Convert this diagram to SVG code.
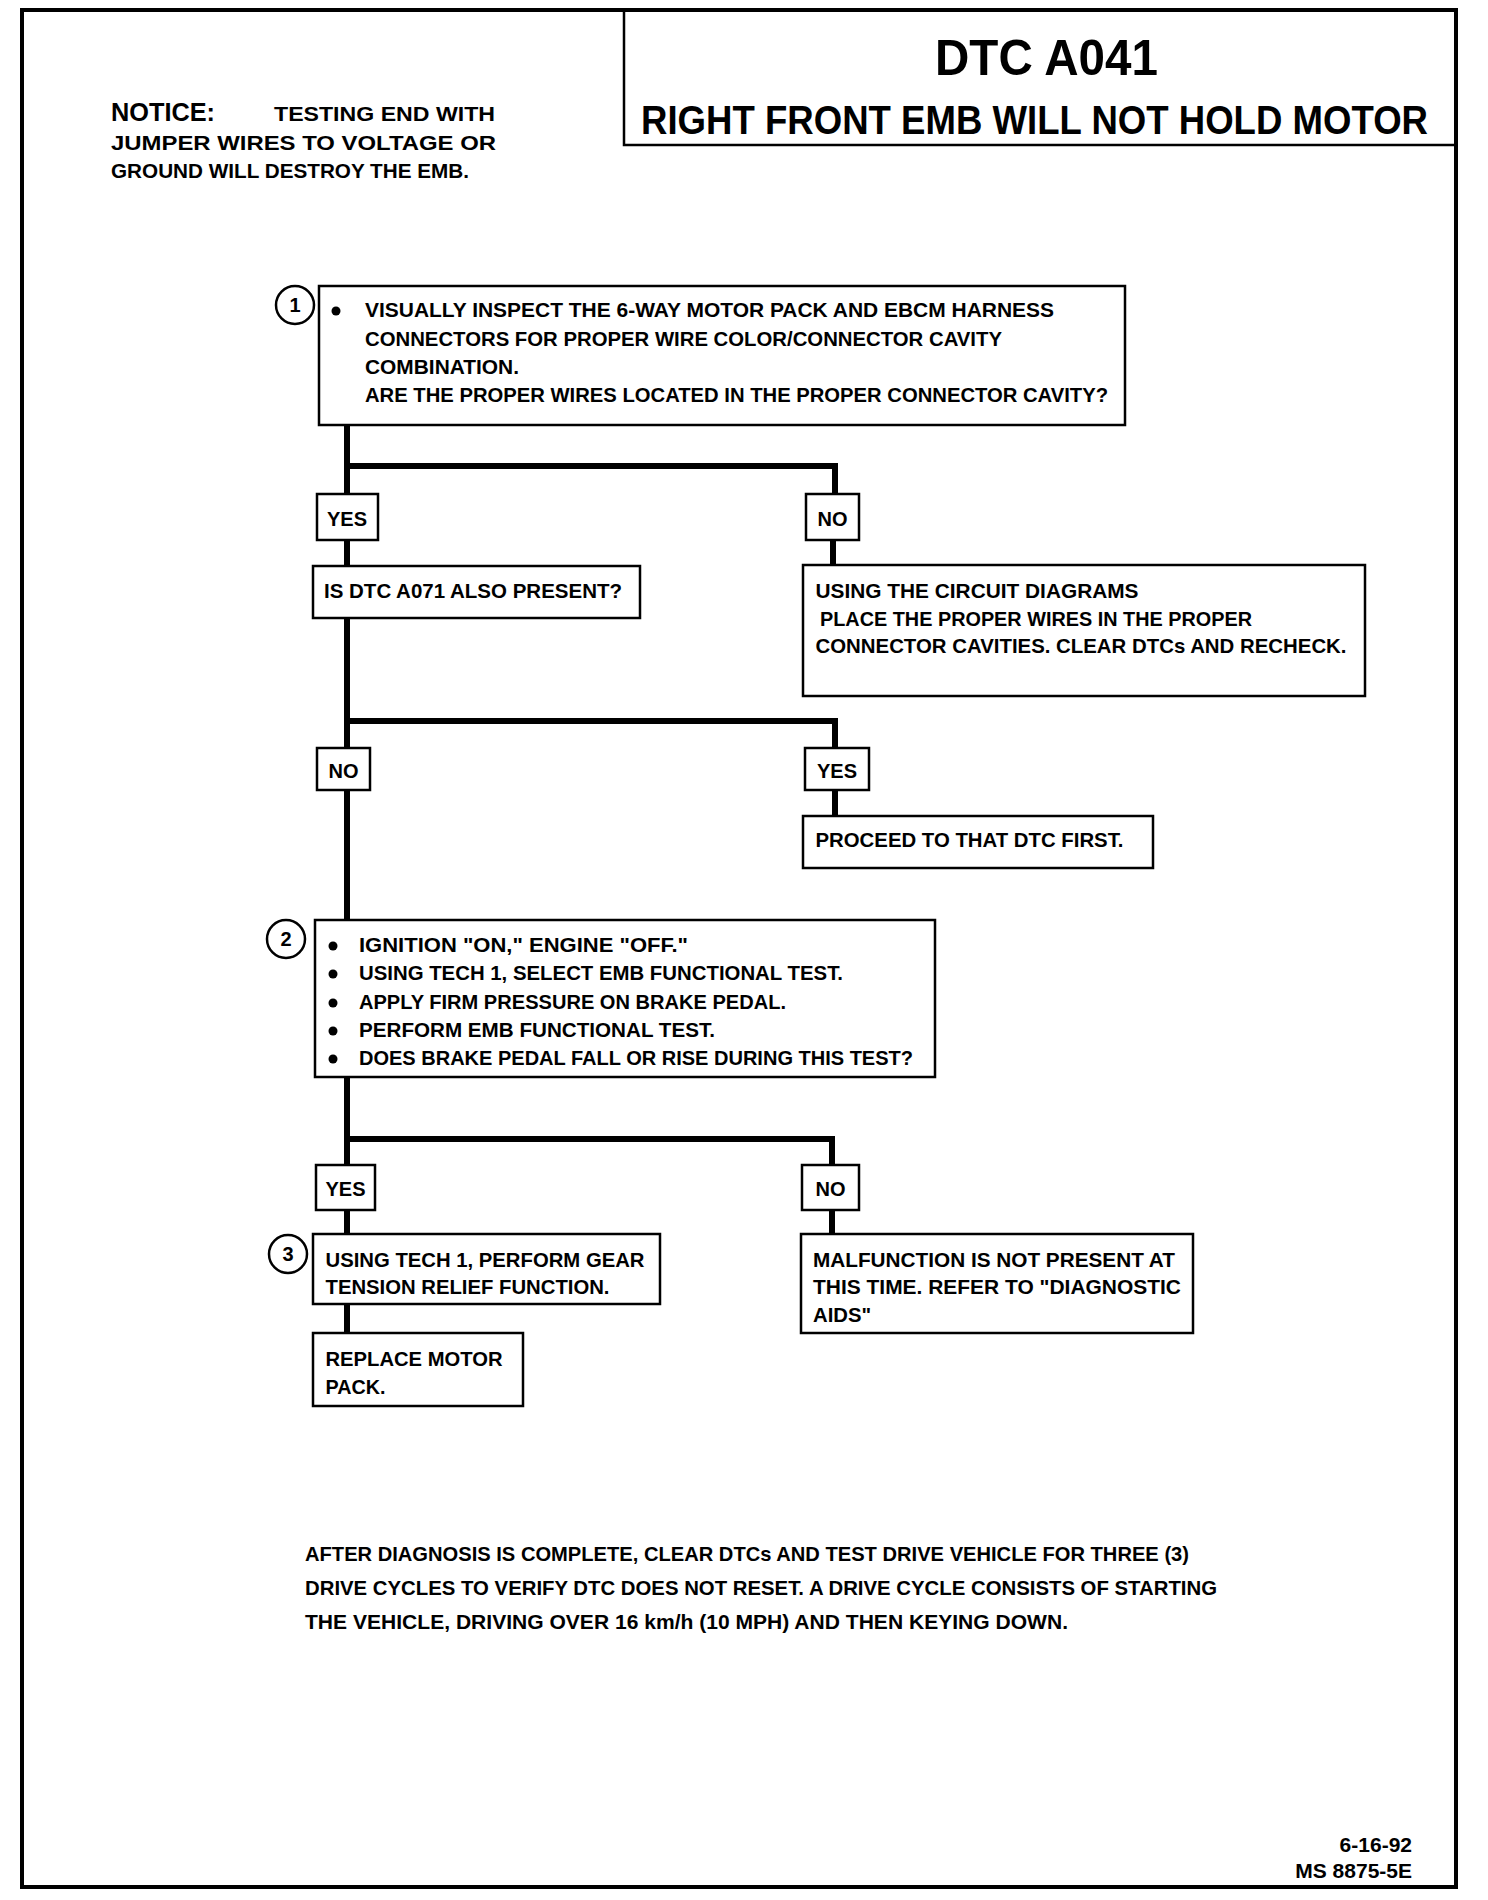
<svg xmlns="http://www.w3.org/2000/svg" width="1488" height="1900" viewBox="0 0 1488 1900">
<style>
text{font-family:"Liberation Sans",Arial,sans-serif;font-weight:bold;fill:#000}
.t{font-size:21px}
.lbl{font-size:20px;text-anchor:middle}
.box{fill:#fff;stroke:#000;stroke-width:2.5}
.circ{fill:#fff;stroke:#000;stroke-width:2.5}
.num{font-size:20px;text-anchor:middle}
.wire{fill:none;stroke:#000;stroke-width:6;stroke-linejoin:miter;stroke-linecap:butt}
</style>
<rect x="0" y="0" width="1488" height="1900" fill="#fff"/>
<rect x="22" y="10" width="1434" height="1877" fill="none" stroke="#000" stroke-width="4"/>

<g id="header">
<path d="M624 10 V145 H1456" fill="none" stroke="#000" stroke-width="2.5"/>
<text x="935" y="75" font-size="50" textLength="223" lengthAdjust="spacingAndGlyphs">DTC A041</text>
<text x="641" y="134" font-size="40" textLength="787" lengthAdjust="spacingAndGlyphs">RIGHT FRONT EMB WILL NOT HOLD MOTOR</text>
</g>

<g id="notice">
<text x="111" y="121" font-size="26" textLength="104" lengthAdjust="spacingAndGlyphs">NOTICE:</text>
<text x="274" y="121" class="t" textLength="221" lengthAdjust="spacingAndGlyphs">TESTING END WITH</text>
<text x="111" y="150" class="t" textLength="385" lengthAdjust="spacingAndGlyphs">JUMPER WIRES TO VOLTAGE OR</text>
<text x="111" y="178" class="t" textLength="358" lengthAdjust="spacingAndGlyphs">GROUND WILL DESTROY THE EMB.</text>
</g>

<g id="connectors">
<path class="wire" d="M347 425 V494"/>
<path class="wire" d="M347 466 H835 V494"/>
<path class="wire" d="M347 540 V566"/>
<path class="wire" d="M833 540 V565"/>
<path class="wire" d="M347 618 V920"/>
<path class="wire" d="M347 721 H835 V748"/>
<path class="wire" d="M835 790 V816"/>
<path class="wire" d="M347 1077 V1333"/>
<path class="wire" d="M347 1139 H832 V1234"/>
</g>

<g id="step1">
<rect class="box" x="319" y="286" width="806" height="139"/>
<circle class="circ" cx="295" cy="305" r="19"/>
<text class="num" x="295" y="312">1</text>
<circle cx="336" cy="311" r="4.5"/>
<text x="365" y="317" class="t" textLength="689" lengthAdjust="spacingAndGlyphs">VISUALLY INSPECT THE 6-WAY MOTOR PACK AND EBCM HARNESS</text>
<text x="365" y="346" class="t" textLength="637" lengthAdjust="spacingAndGlyphs">CONNECTORS FOR PROPER WIRE COLOR/CONNECTOR CAVITY</text>
<text x="365" y="374" class="t" textLength="154" lengthAdjust="spacingAndGlyphs">COMBINATION.</text>
<text x="365" y="402" class="t" textLength="743" lengthAdjust="spacingAndGlyphs">ARE THE PROPER WIRES LOCATED IN THE PROPER CONNECTOR CAVITY?</text>
</g>

<g id="yes1"><rect class="box" x="317" y="494" width="61" height="46"/><text class="lbl" x="347" y="526">YES</text></g>
<g id="no1"><rect class="box" x="806" y="494" width="53" height="46"/><text class="lbl" x="832.5" y="526">NO</text></g>

<g id="a071">
<rect class="box" x="313" y="566" width="327" height="52"/>
<text x="324" y="598" class="t" textLength="298" lengthAdjust="spacingAndGlyphs">IS DTC A071 ALSO PRESENT?</text>
</g>

<g id="circuit">
<rect class="box" x="803" y="565" width="562" height="131"/>
<text x="815.5" y="598" class="t" textLength="323" lengthAdjust="spacingAndGlyphs">USING THE CIRCUIT DIAGRAMS</text>
<text x="820" y="626" class="t" textLength="432" lengthAdjust="spacingAndGlyphs">PLACE THE PROPER WIRES IN THE PROPER</text>
<text x="815.5" y="653" class="t" textLength="531" lengthAdjust="spacingAndGlyphs">CONNECTOR CAVITIES.  CLEAR DTCs AND RECHECK.</text>
</g>

<g id="no2"><rect class="box" x="317" y="748" width="53" height="42"/><text class="lbl" x="343.5" y="778">NO</text></g>
<g id="yes2"><rect class="box" x="805" y="748" width="64" height="42"/><text class="lbl" x="837" y="778">YES</text></g>

<g id="proceed">
<rect class="box" x="803" y="816" width="350" height="52"/>
<text x="815.5" y="847" class="t" textLength="308" lengthAdjust="spacingAndGlyphs">PROCEED TO THAT DTC FIRST.</text>
</g>

<g id="step2">
<rect class="box" x="315" y="920" width="620" height="157"/>
<circle class="circ" cx="286" cy="939" r="19"/>
<text class="num" x="286" y="946">2</text>
<circle cx="333" cy="946" r="4.5"/>
<circle cx="333" cy="974" r="4.5"/>
<circle cx="333" cy="1003" r="4.5"/>
<circle cx="333" cy="1031" r="4.5"/>
<circle cx="333" cy="1059" r="4.5"/>
<text x="359" y="952" class="t" textLength="329" lengthAdjust="spacingAndGlyphs">IGNITION "ON," ENGINE "OFF."</text>
<text x="359" y="980" class="t" textLength="484" lengthAdjust="spacingAndGlyphs">USING TECH 1, SELECT EMB FUNCTIONAL TEST.</text>
<text x="359" y="1009" class="t" textLength="427" lengthAdjust="spacingAndGlyphs">APPLY FIRM PRESSURE ON BRAKE PEDAL.</text>
<text x="359" y="1037" class="t" textLength="356" lengthAdjust="spacingAndGlyphs">PERFORM EMB FUNCTIONAL TEST.</text>
<text x="359" y="1065" class="t" textLength="554" lengthAdjust="spacingAndGlyphs">DOES BRAKE PEDAL FALL OR RISE DURING THIS TEST?</text>
</g>

<g id="yes3"><rect class="box" x="316" y="1165" width="59" height="45"/><text class="lbl" x="345.5" y="1196">YES</text></g>
<g id="no3"><rect class="box" x="802" y="1165" width="57" height="45"/><text class="lbl" x="830.5" y="1196">NO</text></g>

<g id="step3">
<rect class="box" x="313" y="1234" width="347" height="70"/>
<circle class="circ" cx="288" cy="1254" r="19"/>
<text class="num" x="288" y="1261">3</text>
<text x="325.5" y="1267" class="t" textLength="319" lengthAdjust="spacingAndGlyphs">USING TECH 1, PERFORM GEAR</text>
<text x="325.5" y="1294" class="t" textLength="284" lengthAdjust="spacingAndGlyphs">TENSION RELIEF FUNCTION.</text>
</g>

<g id="malfunction">
<rect class="box" x="801" y="1234" width="392" height="99"/>
<text x="813" y="1267" class="t" textLength="362" lengthAdjust="spacingAndGlyphs">MALFUNCTION IS NOT PRESENT AT</text>
<text x="813" y="1294" class="t" textLength="368" lengthAdjust="spacingAndGlyphs">THIS TIME.  REFER TO "DIAGNOSTIC</text>
<text x="813" y="1322" class="t" textLength="58" lengthAdjust="spacingAndGlyphs">AIDS"</text>
</g>

<g id="replace">
<rect class="box" x="313" y="1333" width="210" height="73"/>
<text x="325.5" y="1366" class="t" textLength="177" lengthAdjust="spacingAndGlyphs">REPLACE MOTOR</text>
<text x="325.5" y="1394" class="t" textLength="60" lengthAdjust="spacingAndGlyphs">PACK.</text>
</g>

<g id="footer">
<text x="305" y="1561" class="t" textLength="884" lengthAdjust="spacingAndGlyphs">AFTER DIAGNOSIS IS COMPLETE, CLEAR DTCs AND TEST DRIVE VEHICLE FOR THREE (3)</text>
<text x="305" y="1595" class="t" textLength="912" lengthAdjust="spacingAndGlyphs">DRIVE CYCLES TO VERIFY DTC DOES NOT RESET.  A DRIVE CYCLE CONSISTS OF STARTING</text>
<text x="305" y="1629" class="t" textLength="763" lengthAdjust="spacingAndGlyphs">THE VEHICLE, DRIVING OVER 16 km/h (10 MPH) AND THEN KEYING DOWN.</text>
</g>

<g id="docref">
<text x="1412" y="1852" class="t" text-anchor="end">6-16-92</text>
<text x="1412" y="1878" class="t" text-anchor="end">MS 8875-5E</text>
</g>
</svg>
